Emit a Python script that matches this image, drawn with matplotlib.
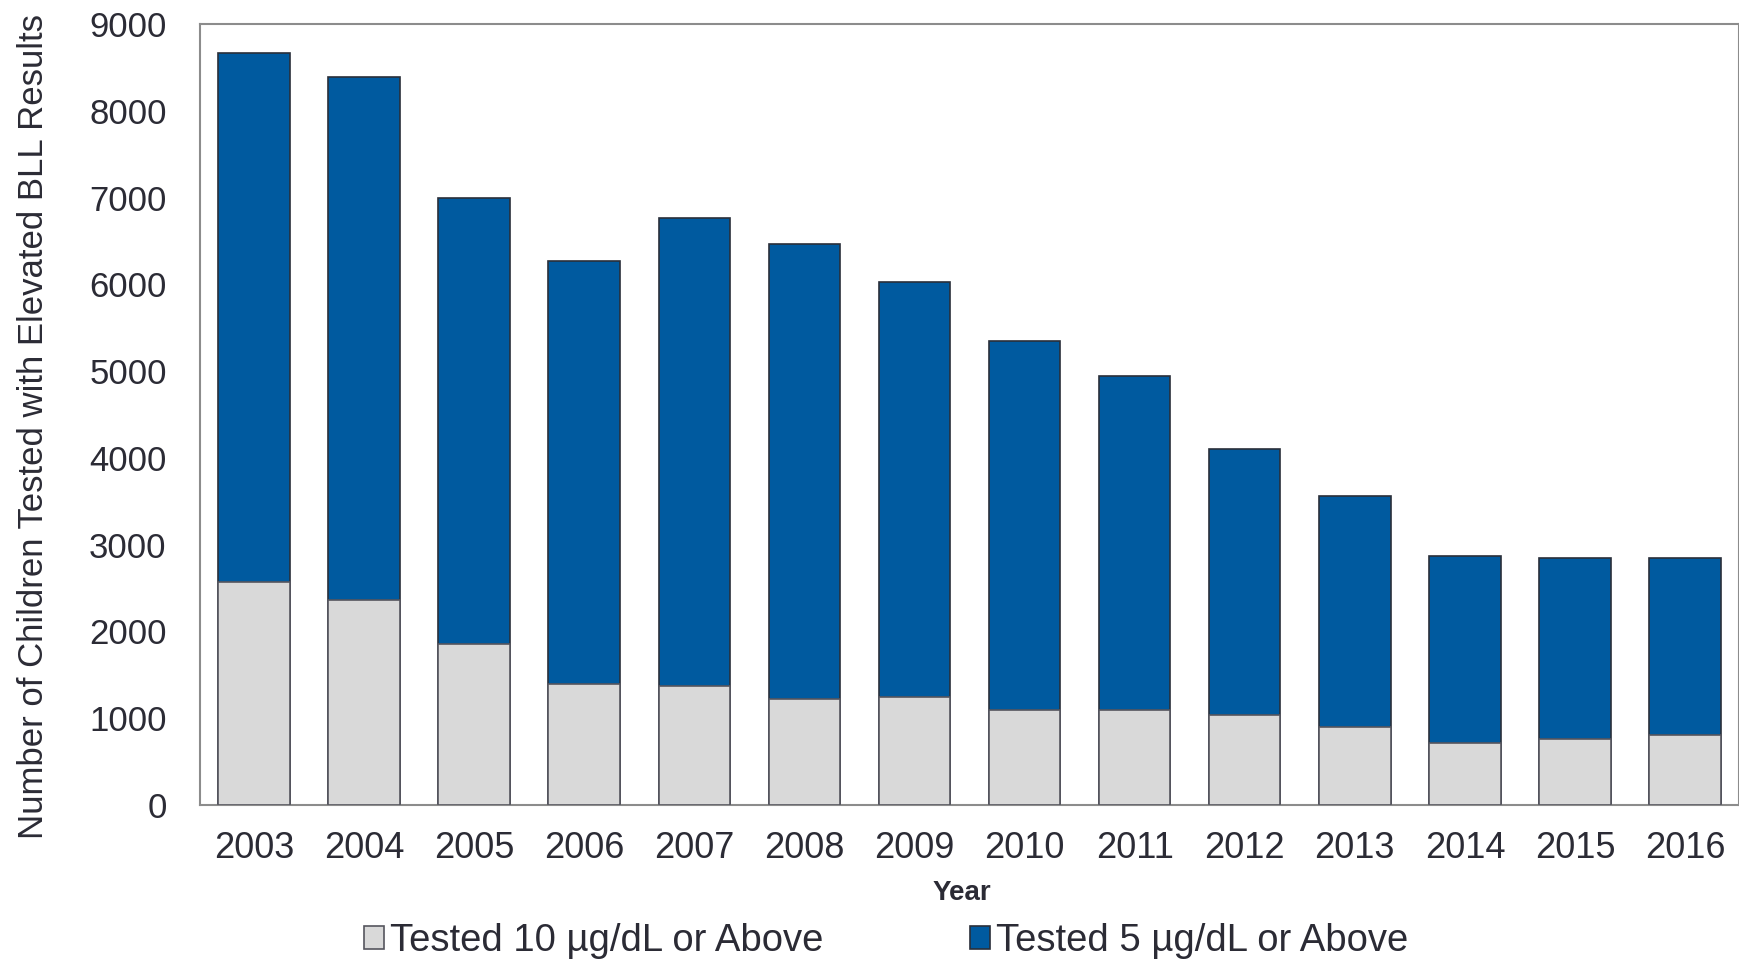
import matplotlib.pyplot as plt
import numpy as np

# Data
years = ['2003', '2004', '2005', '2006', '2007', '2008', '2009',
         '2010', '2011', '2012', '2013', '2014', '2015', '2016']
tested_5_plus = [8670, 8390, 6990, 6265, 6760, 6465, 6030,
                 5350, 4945, 4100, 3565, 2865, 2842, 2850]
tested_10_plus = [2575, 2360, 1860, 1400, 1375, 1220, 1245,
                  1090, 1090, 1040, 895, 720, 756, 807]

text_color = '#2b2b35'
blue = '#005a9f'
gray = '#d9d9d9'

plt.rcParams['font.family'] = ['Liberation Sans', 'DejaVu Sans']

fig = plt.figure(figsize=(17.4, 9.61), dpi=100)
ax = fig.add_axes([200 / 1740, 156 / 961, 1539 / 1740, 781 / 961])

x = np.arange(len(years))
width = 0.65

# blue bar shows the full 5+ count, gray 10+ bar drawn over its bottom part
ax.bar(x, tested_5_plus, width, color=blue, edgecolor='#2a2f3a',
       linewidth=1.2, label='Tested 5 µg/dL or Above', zorder=2)
ax.bar(x, tested_10_plus, width, color=gray, edgecolor='#55555e',
       linewidth=1.2, label='Tested 10 µg/dL or Above', zorder=3)

ax.set_xlim(-0.49, len(years) - 0.51)
ax.set_ylim(0, 9000)
ax.set_yticks(range(0, 9001, 1000))
ax.set_xticks(x)
ax.set_xticklabels(years, family=['Liberation Sans Narrow', 'Liberation Sans'])

ax.tick_params(axis='y', length=0, pad=24, labelsize=25, labelcolor=text_color)
ax.tick_params(axis='x', length=0, pad=19, labelsize=26, labelcolor=text_color)

for side in ['left', 'top', 'bottom', 'right']:
    ax.spines[side].set_color('#8c8c8c')
    ax.spines[side].set_linewidth(1.5)

ax.set_ylabel('Number of Children Tested with Elevated BLL Results',
              fontsize=25, color=text_color, labelpad=28)
ax.yaxis.label.set_y(0.4845)
ax.set_xlabel('Year', fontsize=20, fontweight='bold', color=text_color,
              labelpad=10, family=['Liberation Sans Narrow', 'Liberation Sans'])
ax.xaxis.label.set_x(0.495)

# Legend below the axis, gray item first
handles, labels = ax.get_legend_handles_labels()
fig.legend(handles[::-1], labels[::-1], loc='center', ncol=2,
           bbox_to_anchor=(886 / 1740, 1 - 941 / 961), frameon=False,
           fontsize=27.5, labelcolor=text_color, handlelength=0.52,
           handleheight=0.52, handletextpad=0.15, columnspacing=3.85)

fig.savefig('out.png', dpi=100)
